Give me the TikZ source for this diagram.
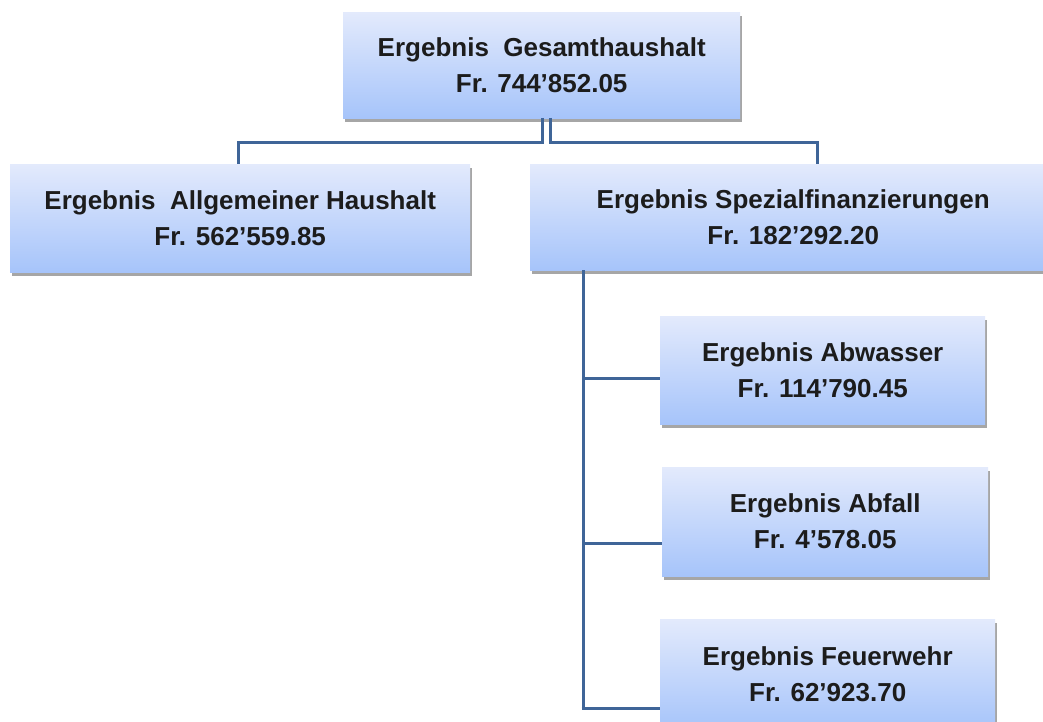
\documentclass[tikz,border=0pt]{standalone}
\usepackage{fontspec}
\setmainfont{Liberation Sans}
\usetikzlibrary{shadows}
\definecolor{boxtop}{HTML}{E3EAFC}
\definecolor{boxbot}{HTML}{A6C4FA}
\definecolor{linec}{HTML}{3F6598}
\definecolor{txt}{HTML}{1C1C1C}
\tikzset{
  orgbox/.style={anchor=north west, inner sep=0pt, top color=boxtop, bottom color=boxbot,
    draw=none, align=center, text=txt, font=\bfseries\fontsize{26}{36}\selectfont,
    drop shadow={shadow xshift=2pt, shadow yshift=-4pt, fill=black, opacity=0.35}},
  conn/.style={draw=linec, line width=3pt}
}
\begin{document}
\begin{tikzpicture}[x=1pt,y=-1pt]
\useasboundingbox (0,0) rectangle (1043,722);
\node[orgbox, minimum width=397pt, minimum height=106pt] (top) at (343,12)
  {Ergebnis\ \ Gesamthaushalt\\Fr. 744'852.05};
\node[orgbox, minimum width=460pt, minimum height=108pt] (allg) at (10,164)
  {Ergebnis\ \ Allgemeiner Haushalt\\Fr. 562'559.85};
\node[orgbox, minimum width=526pt, minimum height=106pt] (spez) at (530,164)
  {Ergebnis Spezialfinanzierungen\\Fr. 182'292.20};
\node[orgbox, minimum width=325pt, minimum height=108pt] (abw) at (660,316)
  {Ergebnis Abwasser\\Fr. 114'790.45};
\node[orgbox, minimum width=326pt, minimum height=109pt] (abf) at (662,467)
  {Ergebnis Abfall\\Fr. 4'578.05};
\node[orgbox, minimum width=335pt, minimum height=110pt] (feu) at (660,619)
  {Ergebnis Feuerwehr\\Fr. 62'923.70};
% connectors from top
\coordinate (tl) at (542,118);
\coordinate (tr) at (550,118);
\coordinate (al) at (238,164);
\coordinate (sr) at (817,164);
\draw[conn] (tl) -- (542,143) -| (al);
\draw[conn] (tr) -- (550,143) -| (sr);
% vertical trunk from spez
\coordinate (vs) at (583,270);
\coordinate (b1) at (583,378);
\coordinate (b2) at (583,543);
\coordinate (b3) at (583,708);
\draw[conn] (vs) -- (b3);
\draw[conn] (b1) -- (abw.west |- b1);
\draw[conn] (b2) -- (abf.west |- b2);
\draw[conn] ([xshift=-1.5pt]b3) -- (feu.west |- b3);
\end{tikzpicture}
\end{document}
